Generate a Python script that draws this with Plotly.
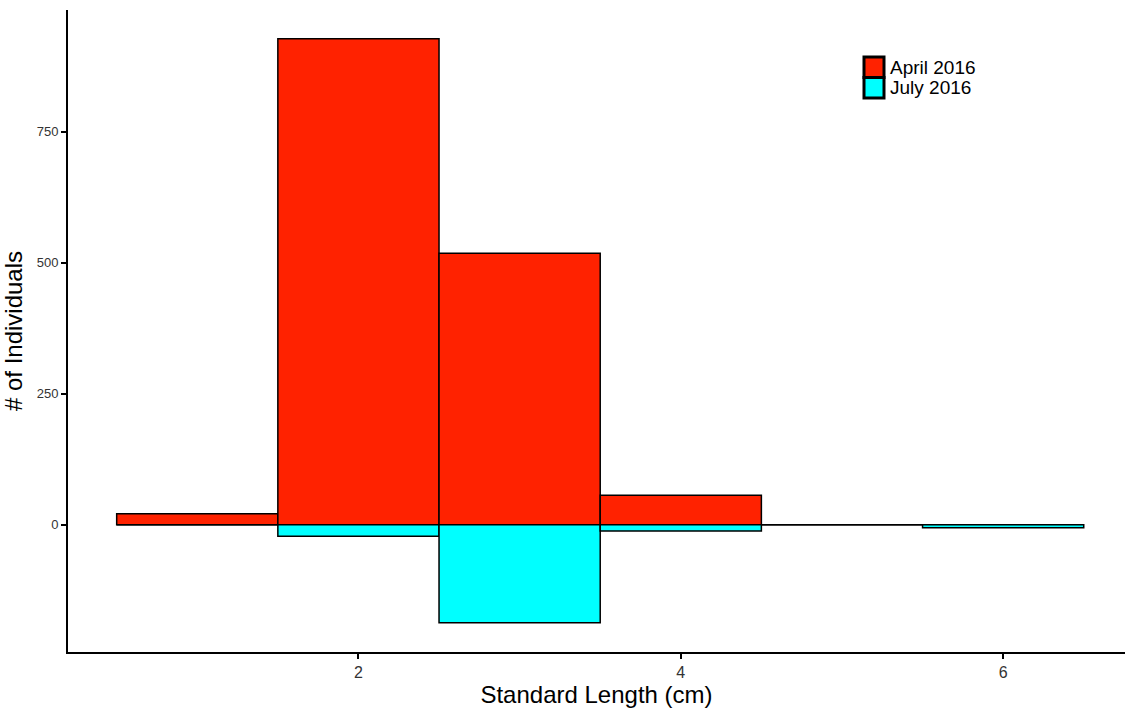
import plotly.graph_objects as go

lengths = [1, 2, 3, 4, 5, 6]
april_2016 = [21, 927, 518, 56, 0, 0]
july_2016 = [0, 22, 187, 12, 0, 6]
series_names = ["April 2016", "July 2016"]
series_colors = ["#FF2200", "#00FFFF"]

fig = go.Figure()
fig.add_trace(go.Bar(
    x=lengths, y=april_2016, name=series_names[0], width=1, showlegend=False,
    marker=dict(color=series_colors[0], line=dict(color="black", width=1.5)),
))
fig.add_trace(go.Bar(
    x=lengths, y=[-v for v in july_2016], name=series_names[1], width=1, showlegend=False,
    marker=dict(color=series_colors[1], line=dict(color="black", width=1.5)),
))

# manual legend (paper coordinates)
L = 68; W = 1057; B = 652; H = 642
def px(x): return (x - L) / W
def py(y): return (B - y) / H

box_tops = [57, 77.5]
box_h = 20.5
for i, (nm, col) in enumerate(zip(series_names, series_colors)):
    t = box_tops[i]
    fig.add_shape(type="rect", xref="paper", yref="paper",
                  x0=px(864), x1=px(884), y0=py(t + box_h), y1=py(t),
                  fillcolor=col, line=dict(color="black", width=3))
    fig.add_annotation(xref="paper", yref="paper", x=px(888), y=py(t + box_h / 2),
                       text=nm, showarrow=False, xanchor="left", yanchor="middle",
                       font=dict(size=19, color="black"))

fig.update_layout(
    width=1125, height=708,
    margin=dict(l=68, r=0, t=10, b=56),
    barmode="overlay",
    plot_bgcolor="white", paper_bgcolor="white",
    font=dict(family="Liberation Sans, Arial, sans-serif", color="black"),
    xaxis=dict(range=[0.198, 6.756], tickvals=[2, 4, 6], showgrid=False,
               zeroline=False, showline=True, linecolor="black", linewidth=2,
               ticks="outside", ticklen=5, tickwidth=2, tickcolor="black",
               tickfont=dict(size=16, color="#333333"),
               title=dict(text="Standard Length (cm)", font=dict(size=24), standoff=0)),
    yaxis=dict(range=[-243, 982], tickvals=[0, 250, 500, 750], showgrid=False,
               zeroline=False, showline=True, linecolor="black", linewidth=2,
               ticks="outside", ticklen=5, tickwidth=2, tickcolor="black",
               tickfont=dict(size=13, color="#333333"),
               title=dict(text="# of Individuals", font=dict(size=24), standoff=8)),
)

fig.write_html("out.html")
